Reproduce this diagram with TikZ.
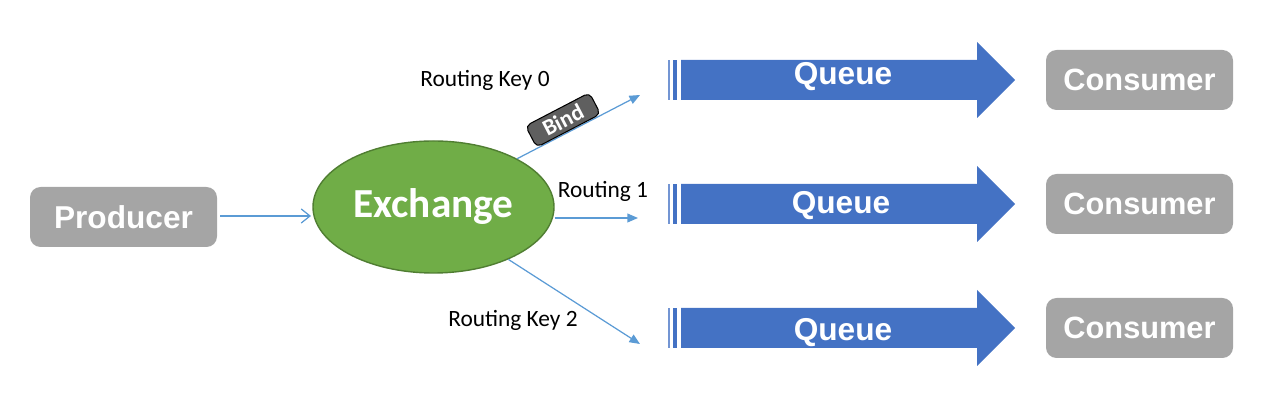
\documentclass[tikz,border=0pt]{standalone}
\usepackage{fontspec}
\setmainfont{Carlito}
\newfontfamily\arialbold[BoldFont={Liberation Sans Bold}]{Liberation Sans}
\usetikzlibrary{arrows.meta,shapes.geometric}
\definecolor{boxgray}{HTML}{A5A5A5}
\definecolor{linkblue}{HTML}{5B9BD5}
\definecolor{queueblue}{HTML}{4472C4}
\definecolor{exgreen}{HTML}{70AD47}
\definecolor{exborder}{HTML}{507E32}
\definecolor{bindgray}{HTML}{5F5F5F}
\tikzset{
  graybox/.style={fill=boxgray, rounded corners=6pt, minimum width=187*0.02cm, minimum height=60*0.02cm, inner sep=0pt, text=white, font=\arialbold\bfseries\fontsize{18}{20}\selectfont},
  link/.style={draw=linkblue, line width=0.7pt, -{Triangle[length=6pt,width=5pt]}},
  rlabel/.style={font=\fontsize{13.3}{15}\selectfont, text=black, inner sep=0pt},
  qtext/.style={text=white, font=\arialbold\bfseries\fontsize{18}{20}\selectfont, inner sep=0pt, anchor=base},
}
\begin{document}
\begin{tikzpicture}[x=0.02cm, y=-0.02cm]
\useasboundingbox (0,0) rectangle (1271,404);
% producer
\node[graybox] (prod) at (123.5,217) {Producer};
% exchange
\node[ellipse, draw=exborder, line width=0.8pt, fill=exgreen, minimum width=241*0.02cm, minimum height=132*0.02cm, inner sep=0pt, text=white, font=\bfseries\fontsize{23.5}{26}\selectfont] (ex) at (433.5,207) {Exchange};
\coordinate (pin) at (311,216);
\draw[draw=linkblue, line width=0.7pt, -{Straight Barb[length=5pt,width=8pt]}] (prod.east |- pin) ++(3,0) -- (pin);
% queues
\foreach \n/\cy/\by/\tx/\ccy in {0/80/85/843/80,1/204/214/841/204,2/328/341/843/328}{
  \fill[queueblue!75!white] (668,\cy-20) rectangle (670,\cy+20);
  \fill[queueblue] (673,\cy-20) rectangle (677,\cy+20);
  \fill[queueblue] (681,\cy-20) -- (977,\cy-20) -- (977,\cy-38) -- (1015,\cy) -- (977,\cy+38) -- (977,\cy+20) -- (681,\cy+20) -- cycle;
  \node[qtext] (q\n) at (\tx,\by) {Queue};
  \node[graybox, font=\arialbold\bfseries\fontsize{17.5}{20}\selectfont] (c\n) at (1139.5,\ccy) {Consumer};
}
% routing connectors
\coordinate (e0) at (640,95);
\coordinate (e1) at (638,218);
\coordinate (e2) at (640,344);
\draw[link] (ex.30) -- (e0);
\draw[link] (ex.east |- e1) -- (e1);
\draw[link] (ex.-35) -- (e2);
\node[rlabel] (l0) at (485,80) {Routing Key 0};
\node[rlabel] (l1) at (603,191) {Routing 1};
\node[rlabel] (l2) at (513,320) {Routing Key 2};
% bind tag
\node[rotate=27.5, fill=bindgray, draw=black, line width=0.6pt, rounded corners=3pt, minimum width=72*0.02cm, minimum height=24*0.02cm, inner sep=0pt, text=white, font=\bfseries\fontsize{13}{14}\selectfont] (bind) at (563,120) {Bind};
\end{tikzpicture}
\end{document}
